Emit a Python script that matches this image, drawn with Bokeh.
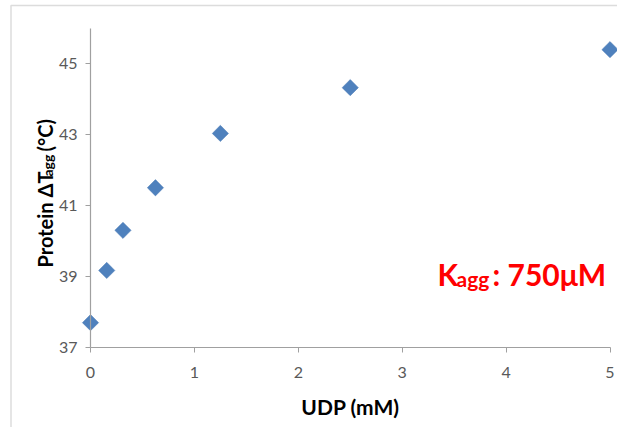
import math
from bokeh.plotting import figure
from bokeh.models import Label, FixedTicker, Range1d, BoxAnnotation
from bokeh.embed import file_html
from bokeh.resources import INLINE

udp_mM = [0.0, 0.15625, 0.3125, 0.625, 1.25, 2.5, 5.0]
delta_tagg = [37.7, 39.17, 40.3, 41.5, 43.03, 44.32, 45.39]
x_ticks = [0, 1, 2, 3, 4, 5]
y_ticks = [37, 39, 41, 43, 45]
x_label = "UDP (mM)"
y_label_parts = ["Protein ΔT", "agg", "(°C)"]
k_parts = ["K", "agg", ": 750μM"]

FONT = "Lato"
W, H = 617, 427
# pixel layout of the plotting area inside the canvas
X0_PX, X_SCALE = 90.0, 103.9     # x=0 at 90px, px per mM
Y0_PX, Y_SCALE = 347.0, 35.5     # y=37 at 347px from top, px per degree

x_start = -X0_PX / X_SCALE
y_start = y_ticks[0] - (H - Y0_PX) / Y_SCALE

p = figure(width=W, height=H, output_backend="svg", toolbar_location=None,
           x_range=Range1d(x_start, x_start + W / X_SCALE),
           y_range=Range1d(y_start, y_start + H / Y_SCALE),
           min_border=0, min_border_left=0, min_border_right=0,
           min_border_top=0, min_border_bottom=0)
p.outline_line_color = None
p.xgrid.visible = False
p.ygrid.visible = False

# chart border
p.add_layout(BoxAnnotation(left=10.5, right=W + 20, top=H - 5, bottom=-20,
                           left_units="screen", right_units="screen",
                           top_units="screen", bottom_units="screen",
                           fill_color=None, line_color="#8c8c8c", line_width=1.5))

p.scatter(udp_mM, delta_tagg, marker="square", size=11.5, angle=math.pi / 4,
          fill_color="#4f81bd", line_color="#4a7ab5", line_width=0.5)

for ax in (p.xaxis[0], p.yaxis[0]):
    ax.axis_line_color = "#a0a0a0"
    ax.axis_line_width = 1.2
    ax.major_tick_line_color = "#a0a0a0"
    ax.major_tick_in = 0
    ax.major_tick_out = 5
    ax.minor_tick_line_color = None
    ax.major_label_text_font = FONT
    ax.major_label_text_font_size = "16px"
    ax.major_label_text_color = "#595959"

p.xaxis.fixed_location = y_ticks[0]
p.yaxis.fixed_location = x_ticks[0]
p.xaxis.bounds = (x_ticks[0], x_ticks[-1])
p.yaxis.bounds = (y_ticks[0], 46)
p.xaxis.ticker = FixedTicker(ticks=x_ticks)
p.yaxis.ticker = FixedTicker(ticks=y_ticks)
p.xaxis.major_label_standoff = 14
p.yaxis.major_label_standoff = 8
p.xaxis.axis_label = x_label
p.xaxis.axis_label_text_font = FONT
p.xaxis.axis_label_text_font_style = "bold"
p.xaxis.axis_label_text_font_size = "21px"
p.xaxis.axis_label_text_color = "black"
p.xaxis.axis_label_standoff = 13

# rotated y-axis title built from parts (with subscript)
def lab(x, y, text, size, color="black", angle=0.0):
    p.add_layout(Label(x=x, y=H - y, x_units="screen", y_units="screen", text=text,
                       angle=angle, text_color=color, text_font=FONT,
                       text_font_style="bold", text_font_size=f"{size}px",
                       text_baseline="alphabetic", text_align="left"))

rot = math.pi / 2
lab(44, 267, y_label_parts[0], 20, angle=rot)
lab(47, 176, y_label_parts[1], 14, angle=rot)
lab(44, 151, y_label_parts[2], 20, angle=rot)

red = "#ff0000"
lab(437, 273, k_parts[0], 30, red)
lab(456, 278, k_parts[1], 21, red)
lab(492, 273, k_parts[2], 30, red)

open("out.html", "w").write(file_html(p, INLINE))
